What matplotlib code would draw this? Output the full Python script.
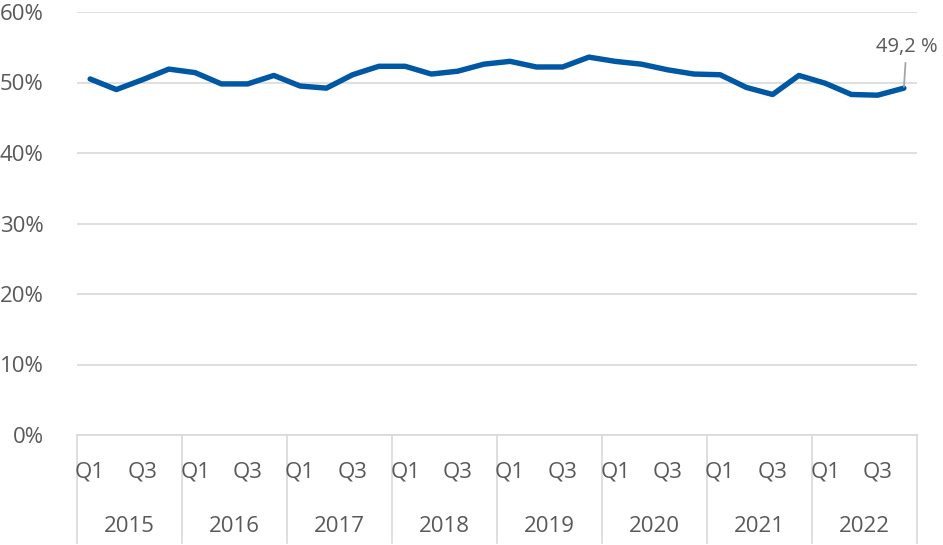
import matplotlib
matplotlib.use("Agg")
import matplotlib.pyplot as plt
import matplotlib.transforms as mtransforms

plt.rcParams['font.family'] = ['Open Sans', 'DejaVu Sans']

years = ["2015", "2016", "2017", "2018", "2019", "2020", "2021", "2022"]
quarters = ["Q1", "Q2", "Q3", "Q4"]
values = [50.5, 49.0, 50.4, 51.9, 51.4, 49.8, 49.8, 51.0,
          49.5, 49.2, 51.1, 52.3, 52.3, 51.2, 51.6, 52.6,
          53.0, 52.2, 52.2, 53.6, 53.0, 52.6, 51.8, 51.2,
          51.1, 49.3, 48.3, 51.0, 49.9, 48.3, 48.2, 49.2]
yticks = [0, 10, 20, 30, 40, 50, 60]
last_label = "49,2 %"

grey = "#595959"
grid = "#d9d9d9"
blue = "#0057a3"

fig = plt.figure(figsize=(9.43, 5.45), dpi=100)
ax = fig.add_axes([77/943, 1-435/545, 840/943, 423/545])

x = list(range(len(values)))
ax.plot(x, values, color=blue, lw=3.9, solid_joinstyle='round', solid_capstyle='round', zorder=3)

ax.set_xlim(-0.5, len(values) - 0.5)
ax.set_ylim(0, 60)
ax.set_yticks(yticks)
ax.set_yticklabels([f"{t}%" for t in yticks], color=grey, fontsize=16)
ax.tick_params(axis='y', length=0, pad=24)
ax.grid(axis='y', color=grid, lw=1.2)
ax.set_axisbelow(True)
for s in ["top", "right", "left"]:
    ax.spines[s].set_visible(False)
ax.spines["bottom"].set_color(grid)
ax.spines["bottom"].set_linewidth(1.2)
ax.set_xticks([])

trans = mtransforms.blended_transform_factory(ax.transData, ax.transAxes)
n_years = len(years)
for i in range(n_years + 1):
    xb = i * 4 - 0.5
    ax.plot([xb, xb], [0, -108/423], color=grid, lw=1.2, transform=trans, clip_on=False)
for yi, yr in enumerate(years):
    for qi, q in enumerate(quarters):
        if qi in (0, 2):
            ax.text(yi * 4 + qi, -37/423, q, transform=trans, ha='center', va='center',
                    color=grey, fontsize=16)
    ax.text(yi * 4 + 1.5, -91/423, yr, transform=trans, ha='center', va='center',
            color=grey, fontsize=16)

ax.annotate(last_label, xy=(x[-1], values[-1]), xytext=(x[-1] + 0.1, 55.0),
            ha='center', va='center', color=grey, fontsize=14.5,
            arrowprops=dict(arrowstyle='-', color='#a6a6a6', lw=1.3, shrinkA=2, shrinkB=1))

fig.savefig("out.png", dpi=100)
